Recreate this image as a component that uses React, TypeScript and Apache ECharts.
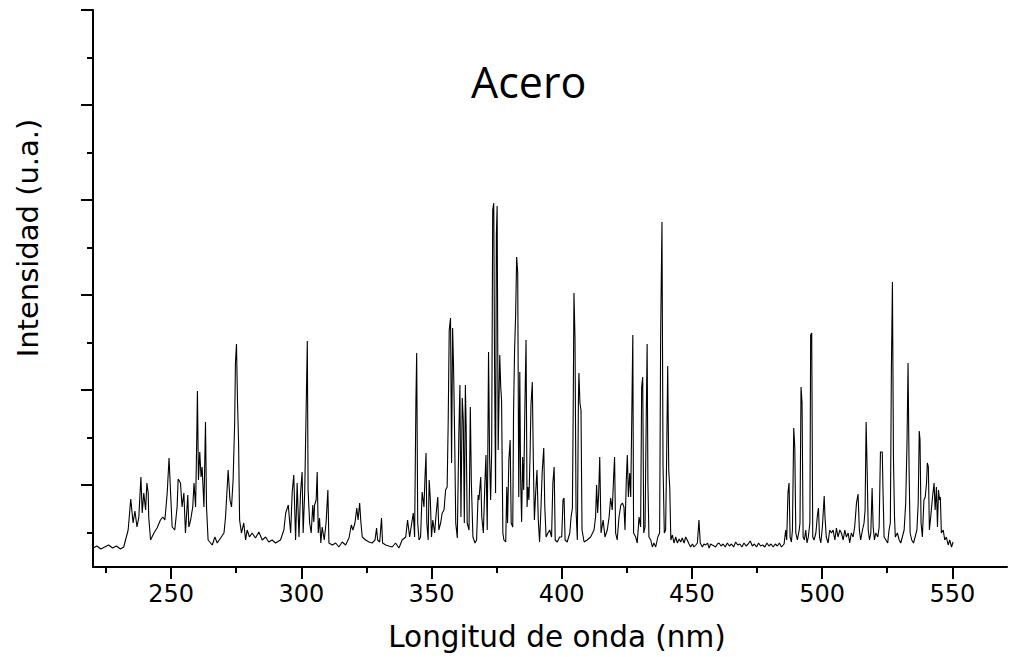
import React, { useEffect, useRef } from "react";
import * as echarts from "echarts";

// Wavelength (nm), intensity (a.u.) pairs
const bandUV: [number, number][] = [
  [220.0,32],[221.5,34],[223.0,31],[224.5,33],[226.0,35],[227.5,32],[229.0,34],[230.5,31],[231.8,33],[232.5,40],[233.5,50],[234.5,81],[235.4,57],[236.1,69],[236.9,53],[237.6,63],[238.4,103],[238.9,67],[239.5,87],[240.2,70],[240.7,97],[241.2,87],[241.4,63],[242.1,40],[243.4,47],[244.6,52],[245.9,60],[246.8,63],[247.6,60],[248.5,87],[249.2,122],[249.8,87],[250.4,53],[251.4,50],[252.3,73],[252.7,101],[253.6,97],[254.2,73],[254.9,87],[255.5,47],[256.4,85],[256.8,53],[257.5,60],[258.3,73],[258.8,97],[259.4,73],[259.9,150],[260.1,189],[260.5,100],[261.0,128],[261.5,103],[261.9,113],[262.6,73],[263.2,158],[263.6,73],[264.2,40],[265.8,35],[266.8,43],[267.7,37],[269.0,42],[270.3,47],[270.9,63],[271.9,110],[272.6,80],[273.2,73],[273.8,100],[274.4,157],[274.7,217],[275.1,236],[275.5,178],[275.9,138],[276.3,60],[277.0,47],[277.9,57],[278.6,40],[279.2,50],[280.1,43],[281.1,47],[282.4,42],[283.7,48],[285.0,40],[286.3,43],[287.5,38],[288.8,40],[290.1,37],[292.0,40],[293.3,50],[294.0,67],[295.0,75]
];

const band295to368: [number, number][] = [
  [295.4,62],[295.9,47],[296.5,88],[297.1,105],[297.8,40],[298.4,97],[299.1,43],[299.7,87],[300.3,108],[300.7,47],[301.3,88],[301.9,177],[302.3,239],[302.6,90],[303.2,57],[303.8,47],[304.4,75],[304.8,58],[305.1,75],[305.7,80],[306.1,108],[306.5,47],[307.0,62],[307.5,37],[308.0,53],[308.8,40],[309.5,57],[310.2,90],[310.6,37],[311.9,35],[313.2,37],[314.4,33],[315.7,38],[317.0,35],[318.3,42],[319.2,55],[319.8,50],[320.6,57],[321.3,72],[321.8,60],[322.4,77],[322.9,57],[323.4,43],[324.7,40],[326.0,38],[327.2,37],[328.3,40],[328.9,52],[329.3,40],[330.1,38],[330.8,62],[331.2,37],[332.4,35],[333.6,34],[334.9,33],[336.2,37],[337.5,32],[338.7,40],[340.1,43],[340.8,60],[341.6,43],[342.4,57],[343.0,67],[343.5,43],[344.0,177],[344.3,227],[344.7,57],[345.2,40],[345.8,43],[346.4,88],[347.1,73],[347.5,103],[347.9,127],[348.2,57],[348.7,40],[349.1,100],[349.5,83],[350.0,43],[350.5,60],[351.2,47],[351.8,67],[352.4,83],[352.8,50],[353.5,57],[354.1,67],[354.8,70],[355.4,90],[356.0,93],[356.4,157],[356.8,250],[357.3,262],[357.7,117],[358.1,252],[358.5,208],[358.9,140],[359.3,57],[359.9,42],[360.5,147],[360.9,195],[361.3,63],[361.8,182],[362.2,160],[362.6,57],[363.0,195],[363.3,153],[363.7,57],[364.4,50],[364.9,173],[365.3,97],[365.9,43],[366.7,37],[367.3,40],[367.9,85]
];

const band368to460: [number, number][] = [
  [368.2,80],[368.9,103],[369.3,63],[369.9,47],[370.5,97],[370.9,125],[371.4,50],[371.9,228],[372.3,123],[372.7,80],[373.1,130],[373.5,370],[373.9,377],[374.2,217],[374.6,87],[374.9,345],[375.2,374],[375.6,130],[376.2,225],[376.6,192],[376.9,180],[377.4,47],[377.8,40],[378.5,38],[378.9,93],[379.2,57],[379.7,120],[380.2,140],[380.6,57],[381.2,53],[381.5,167],[381.9,230],[382.3,265],[382.7,323],[383.1,307],[383.5,83],[383.9,208],[384.2,105],[384.6,58],[385.0,123],[385.4,90],[385.9,180],[386.3,240],[386.7,73],[387.0,93],[387.4,80],[387.8,120],[388.2,175],[388.7,198],[389.1,120],[389.5,60],[390.0,87],[390.5,110],[391.0,60],[391.5,38],[392.0,70],[392.5,108],[393.1,132],[393.5,73],[394.0,43],[394.7,47],[395.4,50],[396.1,43],[396.6,97],[397.1,113],[397.5,40],[398.3,38],[399.2,43],[400.0,43],[400.5,80],[400.9,82],[401.3,40],[402.1,38],[403.1,47],[403.6,63],[404.1,72],[404.4,167],[404.7,287],[405.1,242],[405.5,70],[406.0,40],[406.4,177],[406.6,207],[407.0,177],[407.4,170],[407.8,50],[408.6,38],[409.8,40],[411.1,43],[412.4,50],[413.0,63],[413.4,95],[413.8,67],[414.2,87],[414.6,123],[415.1,47],[415.9,60],[416.6,43],[417.5,50],[418.2,63],[418.8,82],[419.4,70],[420.0,107],[420.3,123],[420.7,47],[421.3,40],[422.0,63],[422.7,75],[423.3,77],[423.9,73],[424.3,50],[424.8,100],[425.2,125],[425.6,83],[426.1,107],[426.5,83],[426.9,162],[427.3,245],[427.6,47],[428.4,43],[429.0,37],[429.7,63],[430.3,53],[430.7,193],[431.1,203],[431.5,47],[432.0,53],[432.4,150],[432.8,236],[433.1,97],[433.5,43],[434.2,40],[434.8,33],[435.4,37],[436.1,33],[436.9,43],[437.6,47],[438.0,248],[438.5,358],[438.9,115],[439.4,47],[439.9,50],[440.3,125],[440.7,214],[441.1,110],[441.5,92],[441.9,40],[442.5,45],[443.1,37],[443.8,43],[444.4,37],[445.1,41],[445.7,38],[446.3,42],[447.0,37],[447.6,43],[448.2,40],[448.9,36],[449.5,33],[450.2,36],[450.8,33],[451.5,35],[452.1,37],[452.7,60],[453.2,37],[454.0,33],[454.6,36],[455.3,35],[456.0,37],[456.6,32],[457.2,36],[457.8,35],[458.5,34],[459.1,33],[459.8,36]
];

const band460to550: [number, number][] = [
  [460.4,37],[461.2,34],[462.0,36],[462.8,33],[463.6,37],[464.4,34],[465.2,36],[466.0,33],[466.8,38],[467.6,35],[468.4,36],[469.2,33],[470.0,37],[470.8,34],[471.6,36],[472.4,39],[473.2,34],[474.0,36],[474.8,33],[475.6,37],[476.4,34],[477.2,35],[478.0,33],[478.8,37],[479.6,34],[480.4,36],[481.2,33],[482.0,36],[482.8,34],[483.6,37],[484.4,33],[485.4,36],[486.0,50],[486.4,40],[486.9,88],[487.3,97],[487.7,43],[488.2,38],[488.6,50],[489.1,152],[489.5,133],[489.9,47],[490.5,40],[491.2,50],[491.5,57],[491.9,193],[492.3,177],[492.7,43],[493.2,40],[493.7,50],[494.2,37],[494.7,43],[495.3,57],[495.6,245],[496.0,247],[496.4,43],[496.9,40],[497.6,47],[498.2,65],[498.6,72],[499.0,43],[499.5,37],[500.1,53],[500.8,84],[501.1,63],[501.6,43],[502.3,37],[502.9,50],[503.6,47],[504.2,50],[504.9,40],[505.5,52],[506.1,43],[506.8,50],[507.4,47],[508.1,40],[508.7,50],[509.3,43],[510.0,47],[510.6,37],[511.2,47],[511.9,43],[512.5,53],[513.2,77],[513.8,86],[514.3,50],[514.8,40],[515.5,50],[516.1,57],[516.5,70],[516.9,158],[517.3,110],[517.7,50],[518.2,40],[518.7,47],[519.2,92],[519.6,53],[520.1,40],[520.6,47],[521.4,43],[521.9,53],[522.4,128],[523.1,128],[523.4,87],[523.8,43],[524.5,40],[525.2,37],[525.7,50],[526.2,57],[526.6,210],[527.0,298],[527.4,122],[527.8,63],[528.1,43],[528.9,47],[529.6,40],[530.2,37],[530.8,43],[531.5,50],[532.1,77],[532.6,137],[533.0,217],[533.4,110],[533.8,47],[534.4,40],[535.1,37],[535.7,43],[536.4,50],[536.9,77],[537.3,149],[537.6,140],[538.0,57],[538.5,43],[539.1,80],[539.6,83],[540.1,97],[540.4,117],[540.8,113],[541.2,50],[541.7,63],[542.4,83],[543.0,97],[543.4,70],[543.9,93],[544.3,53],[544.7,90],[545.1,80],[545.4,83],[545.8,47],[546.5,50],[547.1,40],[547.7,43],[548.4,35],[549.0,40],[549.7,33],[550.3,38]
];

const xMajorTicks = [250, 300, 350, 400, 450, 500, 550];
const xMinorTicks = [225, 275, 325, 375, 425, 475, 525];
const yMajorTicks = [95, 190, 285, 380, 475, 570];
const yMinorTicks = [47.5, 142.5, 237.5, 332.5, 427.5, 522.5];

const titleText = "Acero";
const xName = "Longitud de onda (nm)";
const yName = "Intensidad (u.a.)";

const X_MIN = 220;
const X_MAX = 571;
const Y_MIN = 13;
const Y_MAX = 570;

export default function App() {
  const ref = useRef<HTMLDivElement>(null);

  useEffect(() => {
    if (!ref.current) return;
    const chart = echarts.init(ref.current, undefined, { renderer: "svg" });
    const spectrum = [...bandUV, ...band295to368, ...band368to460, ...band460to550];
    const axisLine = { show: true, lineStyle: { color: "#000", width: 2 } };

    chart.setOption({
      animation: false,
      backgroundColor: "#fff",
      title: {
        text: titleText,
        left: 471,
        top: 60,
        padding: 0,
        textStyle: { fontFamily: "Open Sans", fontSize: 43, fontWeight: "normal", color: "#000" },
      },
      grid: { left: 93, right: 2, top: 10, bottom: 90, containLabel: false },
      xAxis: [
        {
          type: "value",
          min: X_MIN,
          max: X_MAX,
          position: "bottom",
          axisLine,
          axisTick: { show: true, customValues: xMajorTicks, length: 12, lineStyle: { color: "#000", width: 2 } },
          axisLabel: {
            show: true,
            customValues: xMajorTicks,
            margin: 15,
            fontFamily: "DejaVu Sans",
            fontSize: 24,
            color: "#000",
          },
          splitLine: { show: false },
          name: xName,
          nameLocation: "middle",
          nameGap: 55,
          nameTextStyle: { fontFamily: "DejaVu Sans", fontSize: 29.5, color: "#000", padding: [0, 0, 0, 14] },
        },
        {
          type: "value",
          min: X_MIN,
          max: X_MAX,
          position: "bottom",
          axisLine: { show: false },
          axisTick: { show: true, customValues: xMinorTicks, length: 6, lineStyle: { color: "#000", width: 2 } },
          axisLabel: { show: false },
          splitLine: { show: false },
        },
      ],
      yAxis: [
        {
          type: "value",
          min: Y_MIN,
          max: Y_MAX,
          position: "left",
          axisLine,
          axisTick: { show: true, customValues: yMajorTicks, length: 12, lineStyle: { color: "#000", width: 2 } },
          axisLabel: { show: false },
          splitLine: { show: false },
        },
        {
          type: "value",
          min: Y_MIN,
          max: Y_MAX,
          position: "left",
          offset: 0,
          axisLine: { show: false },
          axisTick: { show: true, customValues: yMinorTicks, length: 6, lineStyle: { color: "#000", width: 2 } },
          axisLabel: { show: false },
          splitLine: { show: false },
        },
      ],
      graphic: [
        {
          type: "text",
          x: 28,
          y: 238,
          rotation: Math.PI / 2,
          style: {
            text: yName,
            fontFamily: "DejaVu Sans",
            fontSize: 29,
            fill: "#000",
            textAlign: "center",
            textVerticalAlign: "middle",
          },
        },
      ],
      series: [
        {
          type: "line",
          xAxisIndex: 0,
          yAxisIndex: 0,
          data: spectrum,
          showSymbol: false,
          symbol: "none",
          lineStyle: { color: "#000", width: 1.1 },
          clip: true,
        },
      ],
    });

    return () => chart.dispose();
  }, []);

  return (
    <div
      ref={ref}
      style={{ position: "fixed", left: 0, top: 0, width: 1009, height: 657, background: "#fff" }}
    />
  );
}
